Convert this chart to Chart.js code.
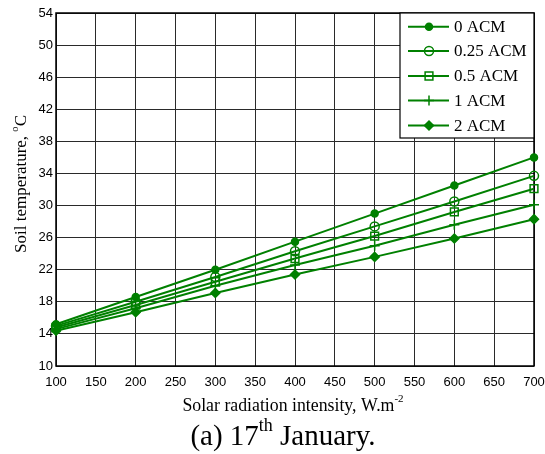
<!DOCTYPE html>
<html>
<head>
<meta charset="utf-8">
<script src="https://cdn.jsdelivr.net/npm/chart.js@4/dist/chart.umd.min.js"></script>
<style>
  html, body { margin: 0; padding: 0; background: #fff; }
  #wrap { width: 545px; height: 454px; position: relative; }
</style>
</head>
<body>
<div id="wrap"><canvas id="soilChart"></canvas></div>
<script>
// solar radiation (W/m2) and soil temperature (deg C) for each ACM level
const radiation = [100, 200, 300, 400, 500, 600, 700];
const acm0 = [15.2, 18.6, 22.0, 25.5, 29.0, 32.5, 36.0];
const acm025 = [15.0, 18.0, 21.1, 24.3, 27.4, 30.5, 33.7];
const acm05 = [14.8, 17.6, 20.5, 23.4, 26.2, 29.2, 32.1];
const acm1 = [14.6, 17.2, 20.0, 22.6, 25.0, 27.6, 30.1];
const acm2 = [14.4, 16.7, 19.1, 21.4, 23.6, 25.9, 28.3];
const seriesLabels = ["0 ACM", "0.25 ACM", "0.5 ACM", "1 ACM", "2 ACM"];
const xTicks = [100, 150, 200, 250, 300, 350, 400, 450, 500, 550, 600, 650, 700];
const yTicks = [10, 14, 18, 22, 26, 30, 34, 38, 42, 46, 50, 54];

const GREEN = "#008000";
const SERIF = "'Liberation Serif', 'Times New Roman', serif";
const SANS = "'Liberation Sans', Arial, sans-serif";

const markers = [
  { pointStyle: "circle", radius: 3.5, fill: GREEN },
  { pointStyle: "circle", radius: 4.5, fill: "rgba(0,0,0,0)" },
  { pointStyle: "rect", radius: 5.5, fill: "rgba(0,0,0,0)" },
  { pointStyle: "cross", radius: 5, fill: GREEN },
  { pointStyle: "rectRot", radius: 4.5, fill: GREEN },
];

const toPoints = (ys) => ys.map((y, i) => ({ x: radiation[i], y: y }));

const datasets = [acm0, acm025, acm05, acm1, acm2].map((ys, i) => ({
  label: seriesLabels[i],
  data: toPoints(ys),
  borderColor: GREEN,
  borderWidth: 2,
  backgroundColor: markers[i].fill,
  pointStyle: markers[i].pointStyle,
  pointRadius: markers[i].radius,
  pointBorderColor: GREEN,
  pointBackgroundColor: markers[i].fill,
  pointBorderWidth: 1.5,
  tension: 0,
  clip: false,
}));

// draws a string made of normal and superscript pieces, centred on (cx, cy)
function drawRich(ctx, parts, size, cx, cy) {
  const pieces = parts.map((p) => {
    const fs = p.sup ? size * 0.62 : size;
    ctx.font = fs + "px " + SERIF;
    return { text: p.text, sup: p.sup, font: ctx.font, w: ctx.measureText(p.text).width };
  });
  const total = pieces.reduce((s, p) => s + p.w, 0);
  let x = cx - total / 2;
  ctx.textBaseline = "middle";
  ctx.textAlign = "left";
  pieces.forEach((p) => {
    ctx.font = p.font;
    ctx.fillText(p.text, x, p.sup ? cy - size * 0.38 : cy);
    x += p.w;
  });
}

const framePlugin = {
  id: "frame",
  beforeDatasetsDraw(chart) {
    const { ctx, chartArea: a } = chart;
    ctx.save();
    // plot box
    ctx.strokeStyle = "#000";
    ctx.lineWidth = 1.5;
    ctx.strokeRect(a.left, a.top, a.right - a.left, a.bottom - a.top);
    ctx.restore();
  },
  afterDatasetsDraw(chart) {
    const { ctx } = chart;
    ctx.save();

    // legend box
    const lx = 400, ly = 13, lw = 134, lh = 125;
    ctx.fillStyle = "#fff";
    ctx.fillRect(lx, ly, lw, lh);
    ctx.strokeStyle = "#000";
    ctx.lineWidth = 1.2;
    ctx.strokeRect(lx, ly, lw, lh);
    const rows = [26.7, 51, 76, 100.5, 125.5];
    seriesLabels.forEach((label, i) => {
      const y = rows[i];
      ctx.strokeStyle = GREEN;
      ctx.lineWidth = 2;
      ctx.beginPath();
      ctx.moveTo(408, y);
      ctx.lineTo(449, y);
      ctx.stroke();
      ctx.fillStyle = markers[i].fill;
      ctx.lineWidth = 1.5;
      Chart.helpers.drawPoint(ctx, {
        pointStyle: markers[i].pointStyle,
        radius: markers[i].radius,
        rotation: 0,
        borderWidth: 1.5,
      }, 429, y);
      ctx.fillStyle = "#000";
      ctx.font = "17px " + SERIF;
      ctx.textAlign = "left";
      ctx.textBaseline = "middle";
      ctx.fillText(label, 454, y + 1);
    });

    // axis titles and caption
    ctx.fillStyle = "#000";
    drawRich(ctx, [{ text: "Solar radiation intensity, W.m" }, { text: "-2", sup: true }], 17.8, 293, 406);
    drawRich(ctx, [{ text: "(a) 17" }, { text: "th", sup: true }, { text: " January." }], 29, 283, 437);
    ctx.translate(22, 184);
    ctx.rotate(-Math.PI / 2);
    drawRich(ctx, [{ text: "Soil temperature, " }, { text: "o", sup: true }, { text: "C" }], 17, 0, 0);
    ctx.restore();
  },
};

new Chart(document.getElementById("soilChart"), {
  type: "line",
  data: { datasets: datasets },
  plugins: [framePlugin],
  options: {
    responsive: true,
    maintainAspectRatio: false,
    animation: false,
    layout: { padding: { top: 13, right: 11, left: 0, bottom: 0 } },
    plugins: {
      legend: { display: false },
      tooltip: { enabled: false },
    },
    scales: {
      x: {
        type: "linear",
        min: 100,
        max: 700,
        afterBuildTicks: (scale) => { scale.ticks = xTicks.map((v) => ({ value: v })); },
        afterFit: (scale) => {
          scale.height = 88;
          // keep the end labels from shrinking the plot area
          scale.paddingLeft = 0;
          scale.paddingRight = 0;
        },
        grid: { color: "#2a2a2a", lineWidth: 1, drawTicks: false },
        border: { display: false },
        ticks: { color: "#000", padding: 9, maxRotation: 0, autoSkip: false, font: { family: SANS, size: 13 } },
      },
      y: {
        type: "linear",
        min: 10,
        max: 54,
        afterBuildTicks: (scale) => { scale.ticks = yTicks.map((v) => ({ value: v })); },
        afterFit: (scale) => {
          scale.width = 56;
          scale.paddingTop = 0;
          scale.paddingBottom = 0;
        },
        grid: { color: "#2a2a2a", lineWidth: 1, drawTicks: false },
        border: { display: false },
        ticks: { color: "#000", padding: 3, autoSkip: false, font: { family: SANS, size: 13 } },
      },
    },
  },
});
</script>
</body>
</html>
